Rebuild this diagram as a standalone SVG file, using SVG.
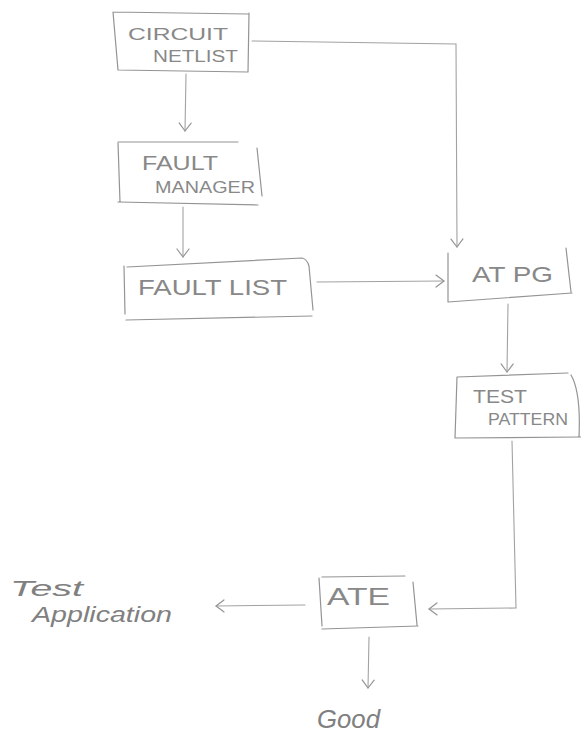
<svg xmlns="http://www.w3.org/2000/svg" width="581" height="740" viewBox="0 0 581 740">
  <style>
    .edge { fill: none; stroke: #949494; stroke-width: 1.2; stroke-linecap: round; stroke-linejoin: round; }
    .wire { fill: none; stroke: #a2a2a2; stroke-width: 1.1; stroke-linecap: round; }
    .lbl { font-family: "Liberation Sans", Arial, sans-serif; fill: #888888; }
    .hand { font-family: "Liberation Sans", Arial, sans-serif; font-style: italic; fill: #808080; }
  </style>
  <defs>
    <marker id="head" markerUnits="userSpaceOnUse" markerWidth="14" markerHeight="14" viewBox="-10 -7 12 14" refX="0" refY="0" orient="auto">
      <path d="M-8,-6 L0,0 L-8,6" fill="none" stroke="#949494" stroke-width="1.2" stroke-linecap="round" stroke-linejoin="round"/>
    </marker>
  </defs>
  <rect width="581" height="740" fill="#ffffff"/>

  <!-- connectors -->
  <g id="connectors">
    <path class="wire" d="M186,74 L185,131" marker-end="url(#head)"/>
    <path class="wire" d="M183,207 L183,257" marker-end="url(#head)"/>
    <path class="wire" d="M252,41 L456,44 L457,247" marker-end="url(#head)"/>
    <path class="wire" d="M317,282 L444,281" marker-end="url(#head)"/>
    <path class="wire" d="M508,304 L507,372" marker-end="url(#head)"/>
    <path class="wire" d="M512,441 L516,608 L429,609" marker-end="url(#head)"/>
    <path class="wire" d="M305,605 L216,606" marker-end="url(#head)"/>
    <path class="wire" d="M369,637 L368,688" marker-end="url(#head)"/>
  </g>

  <!-- nodes -->
  <g id="circuit-netlist">
    <path class="edge" d="M113,12 L248,14 M249,13 L248,72 M118,70 L248,72 M113,12 L118,70"/>
    <text class="lbl" x="128" y="40" font-size="16" textLength="100" lengthAdjust="spacingAndGlyphs">CIRCUIT</text>
    <text class="lbl" x="153" y="62" font-size="16" textLength="85" lengthAdjust="spacingAndGlyphs">NETLIST</text>
  </g>

  <g id="fault-manager">
    <path class="edge" d="M118,142 L238,142 M257,148 L262,196 M118,202 L258,205 M118,143 L120,202"/>
    <text class="lbl" x="142" y="170" font-size="21" textLength="76" lengthAdjust="spacingAndGlyphs">FAULT</text>
    <text class="lbl" x="155" y="193" font-size="17" textLength="100" lengthAdjust="spacingAndGlyphs">MANAGER</text>
  </g>

  <g id="fault-list">
    <path class="edge" d="M127,267 L302,258 Q307,259 309,266 L313,310 M126,320 L312,316 M124,266 L125,314"/>
    <text class="lbl" x="138" y="295" font-size="22" textLength="149" lengthAdjust="spacingAndGlyphs">FAULT LIST</text>
  </g>

  <g id="atpg">
    <path class="edge" d="M448,253 L448,302 L572,293 M566,248 L571,292"/>
    <text class="lbl" x="472" y="282" font-size="22" textLength="81" lengthAdjust="spacingAndGlyphs">AT PG</text>
  </g>

  <g id="test-pattern">
    <path class="edge" d="M457,377 L568,373 M571,375 Q581,392 579,437 M455,438 L581,437 M457,377 L455,438"/>
    <text class="lbl" x="473" y="403" font-size="19" textLength="54" lengthAdjust="spacingAndGlyphs">TEST</text>
    <text class="lbl" x="488" y="425" font-size="16" textLength="80" lengthAdjust="spacingAndGlyphs">PATTERN</text>
  </g>

  <g id="ate">
    <path class="edge" d="M322,577 L405,576 M413,582 L417,625 M322,629 L418,626 M319,578 L322,626"/>
    <text class="lbl" x="327" y="605" font-size="24" textLength="63" lengthAdjust="spacingAndGlyphs">ATE</text>
  </g>

  <g id="test-application">
    <text class="hand" x="10" y="596" font-size="22" textLength="73" lengthAdjust="spacingAndGlyphs">Test</text>
    <text class="hand" x="32" y="622" font-size="22" textLength="140" lengthAdjust="spacingAndGlyphs">Application</text>
  </g>

  <g id="good">
    <text class="hand" x="317" y="728" font-size="26" textLength="63" lengthAdjust="spacingAndGlyphs">Good</text>
  </g>
</svg>
